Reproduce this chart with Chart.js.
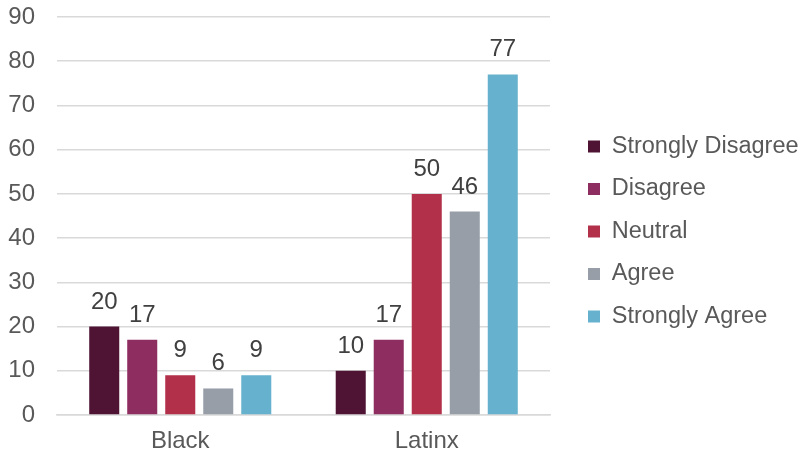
<!DOCTYPE html>
<html>
<head>
<meta charset="utf-8">
<script src="https://cdn.jsdelivr.net/npm/chart.js"></script>
<style>
  html, body { margin: 0; padding: 0; background: #fff; }
  #wrap { width: 800px; height: 455px; }
</style>
</head>
<body>
<div id="wrap"><canvas id="myChart"></canvas></div>
<script>
var groups = ["Black", "Latinx"];
var seriesNames = ["Strongly Disagree", "Disagree", "Neutral", "Agree", "Strongly Agree"];
var stronglyDisagree = [20, 10];
var disagree = [17, 17];
var neutral = [9, 50];
var agree = [6, 46];
var stronglyAgree = [9, 77];
var colors = ["#4f1434", "#8e2d60", "#b3304a", "#979ea8", "#66b1cd"];
var yTicks = [0, 10, 20, 30, 40, 50, 60, 70, 80, 90];

var seriesValues = [stronglyDisagree, disagree, neutral, agree, stronglyAgree];
var fontFamily = '"Liberation Sans", Arial, sans-serif';

// draws the number above each bar
var barValues = {
    id: 'barValues',
    afterDatasetsDraw: function(chart) {
        var ctx = chart.ctx;
        ctx.save();
        ctx.fillStyle = '#404040';
        ctx.font = '24px ' + fontFamily;
        ctx.textAlign = 'center';
        ctx.textBaseline = 'alphabetic';
        chart.data.datasets.forEach(function(ds, i) {
            chart.getDatasetMeta(i).data.forEach(function(bar, j) {
                ctx.fillText(ds.data[j], bar.x, bar.y - 18);
            });
        });
        ctx.restore();
    }
};

window.onload = function() {
    var ctx = document.getElementById("myChart").getContext('2d');
    window.myBar = new Chart(ctx, {
        type: 'bar',
        data: {
            labels: groups,
            datasets: seriesNames.map(function(name, i) {
                return {
                    label: name,
                    data: seriesValues[i],
                    backgroundColor: colors[i],
                    categoryPercentage: 0.771,
                    barPercentage: 0.79
                };
            })
        },
        plugins: [barValues],
        options: {
            responsive: true,
            maintainAspectRatio: false,
            animation: false,
            layout: { padding: { top: 8, right: 0, bottom: 0, left: 0 } },
            plugins: {
                legend: {
                    position: 'right',
                    maxWidth: 231,
                    labels: {
                        boxWidth: 12,
                        boxHeight: 12,
                        padding: 19,
                        color: '#595959',
                        font: { size: 23.5, family: fontFamily }
                    }
                },
                tooltip: { enabled: false }
            },
            scales: {
                x: {
                    grid: { display: false },
                    border: { color: '#d9d9d9', width: 1.5 },
                    afterFit: function(axis) { axis.height = 40; },
                    ticks: {
                        color: '#595959',
                        padding: 4,
                        font: { size: 24, family: fontFamily }
                    }
                },
                y: {
                    min: 0,
                    max: 90,
                    afterBuildTicks: function(axis) {
                        axis.ticks = yTicks.map(function(v) { return { value: v }; });
                    },
                    afterFit: function(axis) {
                        axis.width = 57;
                        axis.paddingTop = 17;
                        axis.paddingBottom = 0;
                    },
                    border: { display: false },
                    grid: { color: '#d9d9d9', lineWidth: 1.5, drawTicks: false },
                    ticks: {
                        color: '#595959',
                        padding: 22,
                        font: { size: 24, family: fontFamily }
                    }
                },
                // empty axis, only keeps a gap between the bars and the legend
                gap: {
                    type: 'linear',
                    position: 'right',
                    afterFit: function(axis) { axis.width = 19; },
                    border: { display: false },
                    grid: { drawOnChartArea: false, drawTicks: false },
                    ticks: { display: false }
                }
            }
        }
    });
};
</script>
</body>
</html>
